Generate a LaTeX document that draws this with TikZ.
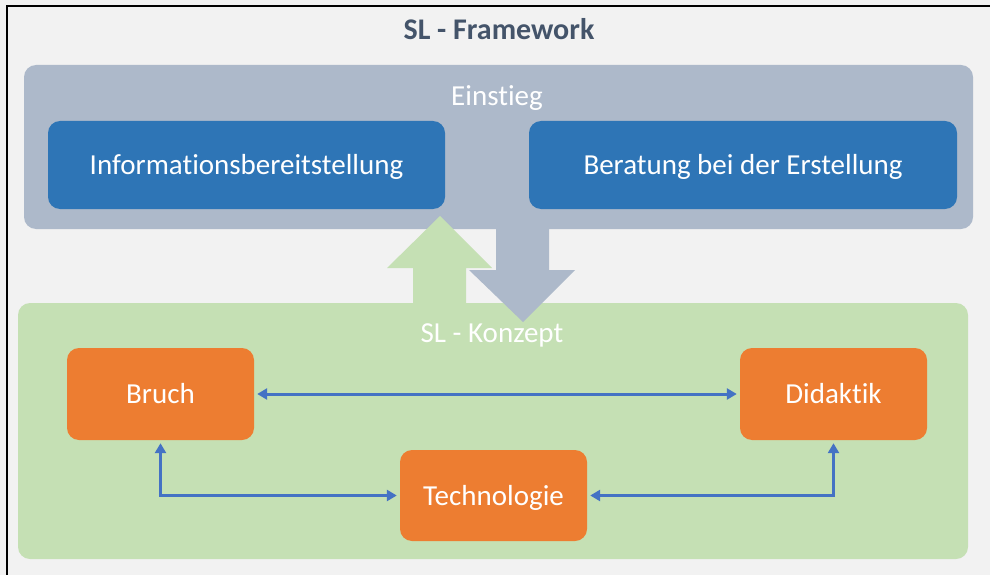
\documentclass[tikz,border=0pt]{standalone}
\usepackage{fontspec}
\setmainfont{Carlito}[Ligatures=NoCommon]
\usetikzlibrary{positioning,arrows.meta}
\definecolor{bggray}{RGB}{242,242,242}
\definecolor{titlegray}{RGB}{68,84,106}
\definecolor{einstieggray}{RGB}{173,185,202}
\definecolor{infoblue}{RGB}{46,117,182}
\definecolor{konzeptgreen}{RGB}{197,224,180}
\definecolor{partorange}{RGB}{237,125,49}
\definecolor{linkblue}{RGB}{68,114,196}

\begin{document}
\begin{tikzpicture}[x=1pt,y=-1pt,
  label/.style={inner sep=0pt,text height=19pt,text depth=0pt,font=\fontsize{29}{34}\selectfont},
  bluebox/.style={label,fill=infoblue,text=white,rounded corners=12pt,minimum height=88pt},
  orangebox/.style={label,fill=partorange,text=white,rounded corners=12pt,minimum width=187pt,minimum height=92pt},
  link/.style={draw=linkblue,line width=3pt,{Triangle[width=11pt,length=10pt]}-{Triangle[width=11pt,length=10pt]},shorten <=3pt,shorten >=3pt}]
\useasboundingbox (0,0) rectangle (990,575);
% background
\fill[bggray] (0,0) rectangle (990,575);
\draw[line width=2pt] (7,575) -- (7,6) -- (990,6);
\node[label,font=\fontsize{30}{35}\selectfont\bfseries,text=titlegray] (title) at (499,30) {SL - Framework};
% Einstieg
\fill[einstieggray,rounded corners=12pt] (24,65) rectangle (973,229);
\node[label,text=white] (einstieg) at (497,96) {Einstieg};
\node[bluebox,minimum width=397pt] (info) at (246.5,165) {Informationsbereitstellung};
\node[bluebox,minimum width=428pt] (beratung) at (743,165) {Beratung bei der Erstellung};
% SL - Konzept
\fill[konzeptgreen,rounded corners=12pt] (18,303) rectangle (968,559);
\fill[konzeptgreen] (413,305) -- (413,268) -- (387,268) -- (440,216) -- (492,268) -- (466,268) -- (466,305) -- cycle; % up arrow
\fill[einstieggray] (496,225) -- (496,270) -- (469,270) -- (523,322) -- (575,270) -- (549,270) -- (549,225) -- cycle; % down arrow
\node[label,text=white] (konzept) at (492,333) {SL - Konzept};
\node[orangebox] (bruch) at (160.5,394) {Bruch};
\node[orangebox] (didaktik) at (833.5,394) {Didaktik};
\node[orangebox,minimum height=91pt] (technologie) at (493.5,495.5) {Technologie};
% links
\draw[link] (bruch) -- (didaktik);
\draw[link] (bruch.south) |- (technologie.west);
\draw[link] (didaktik.south) |- (technologie.east);
\end{tikzpicture}
\end{document}
